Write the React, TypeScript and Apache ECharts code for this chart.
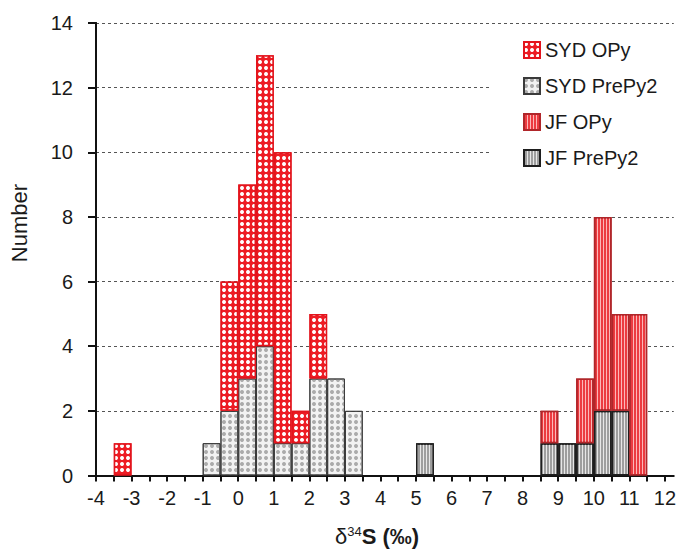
import React, { useEffect, useRef } from 'react';
import * as echarts from 'echarts';

// Histogram bins (start of each 0.5‰ bin)
const binStarts = [
  -4, -3.5, -3, -2.5, -2, -1.5, -1, -0.5, 0, 0.5, 1, 1.5, 2, 2.5, 3, 3.5,
  4, 4.5, 5, 5.5, 6, 6.5, 7, 7.5, 8, 8.5, 9, 9.5, 10, 10.5, 11, 11.5,
];
const binEnd = 12;

// Counts per bin
const sydOPy = [
  0, 1, 0, 0, 0, 0, 0, 4, 6, 9, 9, 1, 2, 0, 0, 0,
  0, 0, 0, 0, 0, 0, 0, 0, 0, 0, 0, 0, 0, 0, 0, 0,
];
const sydPrePy2 = [
  0, 0, 0, 0, 0, 0, 1, 2, 3, 4, 1, 1, 3, 3, 2, 0,
  0, 0, 0, 0, 0, 0, 0, 0, 0, 0, 0, 0, 0, 0, 0, 0,
];
const jfOPy = [
  0, 0, 0, 0, 0, 0, 0, 0, 0, 0, 0, 0, 0, 0, 0, 0,
  0, 0, 0, 0, 0, 0, 0, 0, 0, 1, 0, 2, 6, 3, 5, 0,
];
const jfPrePy2 = [
  0, 0, 0, 0, 0, 0, 0, 0, 0, 0, 0, 0, 0, 0, 0, 0,
  0, 0, 1, 0, 0, 0, 0, 0, 0, 1, 1, 1, 2, 2, 0, 0,
];

const xTickLabels = [-4, -3, -2, -1, 0, 1, 2, 3, 4, 5, 6, 7, 8, 9, 10, 11, 12];
const xMin = -4;
const xMax = 12.25;
const axisLead = 0.225; // x-axis line runs a little left of the y-axis
const yMax = 14;
const ySplitNumber = 7;

const FONT = 'Liberation Sans';

export default function App() {
  const ref = useRef<HTMLDivElement>(null);

  useEffect(() => {
    if (!ref.current) return;
    const chart = echarts.init(ref.current, null, { renderer: 'svg' });
    const toData = (arr: number[]) => arr.map((v) => (v === 0 ? '-' : v));
    const binEdges = [...binStarts, binEnd];

    const option: any = {
      animation: false,
      grid: [
        { left: 96, right: 14, top: 23, bottom: 75.5 },
        { left: 96, right: 5, top: 23, bottom: 75.5 },
        { left: 88, right: 5, top: 23, bottom: 75.5 },
      ],
      xAxis: [
        {
          gridIndex: 0,
          type: 'category',
          data: binStarts.map(String),
          show: false,
        },
        {
          gridIndex: 1,
          type: 'value',
          min: xMin,
          max: xMax,
          axisLine: { show: true, onZero: false, lineStyle: { color: '#111', width: 2 } },
          axisTick: {
            show: true,
            customValues: binEdges,
            length: 6,
            lineStyle: { color: '#111', width: 2 },
          },
          axisLabel: {
            customValues: xTickLabels,
            color: '#1a1a1a',
            fontSize: 20,
            fontFamily: FONT,
            margin: 12,
          },
          splitLine: { show: false },
        },
        {
          // shifted copy of the x scale so that the y-axis sits on δ34S = -4
          gridIndex: 2,
          type: 'value',
          min: -axisLead,
          max: xMax - xMin,
          show: false,
          axisLine: { onZero: false },
          splitLine: { show: false },
        },
      ],
      yAxis: [
        {
          gridIndex: 0,
          type: 'value',
          min: 0,
          max: yMax,
          splitNumber: ySplitNumber,
          position: 'left',
          axisLine: { show: true, lineStyle: { color: '#111', width: 2 } },
          axisTick: { show: true, length: 8, lineStyle: { color: '#111', width: 2 } },
          axisLabel: { color: '#1a1a1a', fontSize: 20, fontFamily: FONT, margin: 23 },
          splitLine: { show: false },
        },
        {
          gridIndex: 1,
          type: 'value',
          min: 0,
          max: yMax,
          splitNumber: ySplitNumber,
          position: 'right',
          axisLine: { show: false, onZero: false },
          axisTick: { show: false },
          axisLabel: { show: false },
          splitLine: {
            show: true,
            lineStyle: { color: '#555', width: 1.2, type: [3, 3] },
          },
        },
        {
          gridIndex: 2,
          type: 'value',
          min: 0,
          max: yMax,
          splitNumber: ySplitNumber,
          axisLine: { show: true, onZero: true, lineStyle: { color: '#111', width: 2 } },
          axisTick: { show: true, length: 8, lineStyle: { color: '#111', width: 2 } },
          axisLabel: { show: false },
          splitLine: { show: false },
        },
      ],
      legend: {
        orient: 'vertical',
        left: 490,
        top: 35,
        padding: [5, 24, 5, 33],
        backgroundColor: '#ffffff',
        itemWidth: 16,
        itemHeight: 16,
        itemGap: 16,
        icon: 'rect',
        data: ['SYD OPy', 'SYD PrePy2', 'JF OPy', 'JF PrePy2'],
        textStyle: { fontSize: 20, color: '#1a1a1a', fontFamily: FONT },
      },
      graphic: [
        {
          type: 'text',
          x: 19,
          y: 223,
          rotation: Math.PI / 2,
          style: {
            text: 'Number',
            fontSize: 22,
            fontFamily: FONT,
            fill: '#1a1a1a',
            align: 'center',
            verticalAlign: 'middle',
          },
        },
        {
          type: 'text',
          x: 377,
          y: 536,
          style: {
            text: '{d|δ}{s|34}{b|S (‰)}',
            align: 'center',
            verticalAlign: 'middle',
            fill: '#1a1a1a',
            rich: {
              d: { fontSize: 22, fontFamily: FONT, fill: '#1a1a1a' },
              s: { fontSize: 13, fontFamily: FONT, fill: '#1a1a1a', verticalAlign: 'top', padding: [0, 0, 7, 0] },
              b: { fontSize: 22, fontFamily: FONT, fontWeight: 'bold', fill: '#1a1a1a' },
            },
          },
        },
      ],
      series: [
        {
          name: 'SYD PrePy2',
          type: 'bar',
          stack: 'all',
          xAxisIndex: 0,
          yAxisIndex: 0,
          barCategoryGap: '0%',
          data: toData(sydPrePy2),
          itemStyle: {
            color: '#f2f2f2',
            borderColor: '#3a3a3a',
            borderWidth: 1,
            decal: {
              symbol: 'circle',
              symbolSize: 1,
              dashArrayX: [4, 2],
              dashArrayY: [4, 2],
              color: '#ababab',
            },
          },
        },
        {
          name: 'SYD OPy',
          type: 'bar',
          stack: 'all',
          xAxisIndex: 0,
          yAxisIndex: 0,
          barCategoryGap: '0%',
          data: toData(sydOPy),
          itemStyle: {
            color: '#ed1c24',
            borderColor: '#e3151d',
            borderWidth: 1.5,
            decal: {
              symbol: 'circle',
              symbolSize: 1,
              dashArrayX: [4, 2],
              dashArrayY: [4, 2],
              color: '#ffffff',
            },
          },
        },
        {
          name: 'JF PrePy2',
          type: 'bar',
          stack: 'all',
          xAxisIndex: 0,
          yAxisIndex: 0,
          barCategoryGap: '0%',
          data: toData(jfPrePy2),
          itemStyle: {
            color: '#9e9e9e',
            borderColor: '#1e1e1e',
            borderWidth: 1.5,
            decal: {
              symbol: 'rect',
              symbolSize: 1,
              dashArrayX: [1, 2],
              dashArrayY: [1, 0],
              color: 'rgba(255,255,255,0.75)',
            },
          },
        },
        {
          name: 'JF OPy',
          type: 'bar',
          stack: 'all',
          xAxisIndex: 0,
          yAxisIndex: 0,
          barCategoryGap: '0%',
          data: toData(jfOPy),
          itemStyle: {
            color: '#ec3b40',
            borderColor: '#b0262a',
            borderWidth: 1.5,
            decal: {
              symbol: 'rect',
              symbolSize: 1,
              dashArrayX: [1, 2],
              dashArrayY: [1, 0],
              color: 'rgba(255,205,205,0.85)',
            },
          },
        },
      ],
    };

    chart.setOption(option);
    return () => chart.dispose();
  }, []);

  return (
    <div
      ref={ref}
      style={{ width: 679, height: 551, position: 'absolute', left: 0, top: 0 }}
    />
  );
}
